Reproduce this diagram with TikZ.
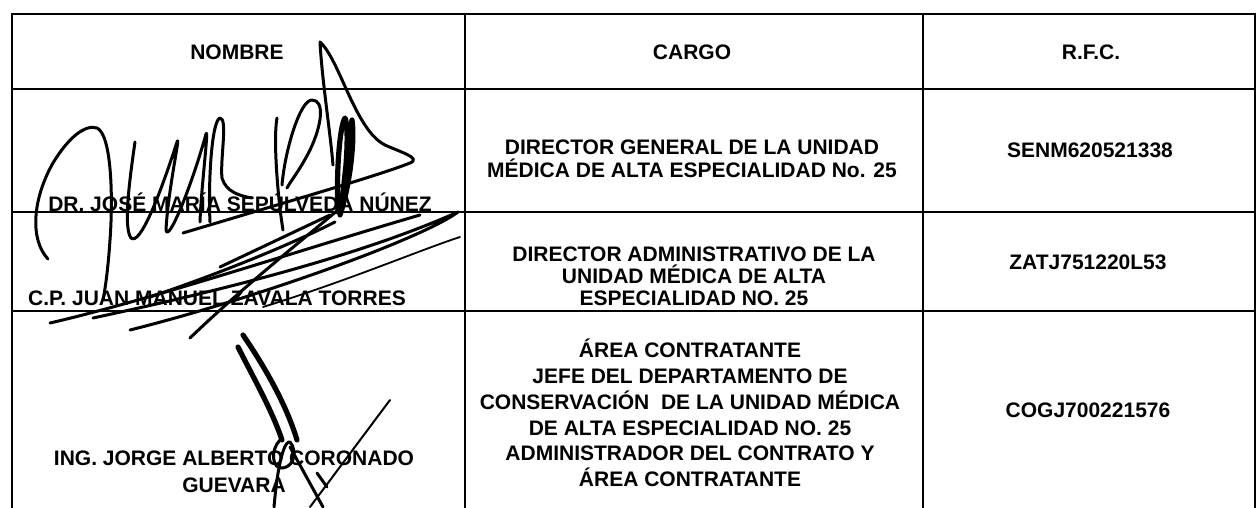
\documentclass[tikz,border=0pt]{standalone}
\usepackage{fontspec}
\setmainfont{Liberation Sans}
\usepackage{tikz}
\usetikzlibrary{positioning,calc}

\begin{document}
\begin{tikzpicture}[x=0.5pt, y=-0.5pt, line width=0.8pt]
\tikzset{cell/.style={font=\bfseries\fontsize{10.5}{11.5}\selectfont, align=center, inner sep=0pt},
         sig/.style={line width=1.5pt, line cap=round, line join=round},
         heavy/.style={sig, line width=2.6pt}}
\useasboundingbox (0,0) rectangle (1257,508);
% table
\draw (12,508) -- (12,14) -- (1255,14) -- (1255,508);
\foreach \x in {465,923} \draw (\x,14) -- (\x,508);
\foreach \y in {89,212,311} \draw (12,\y) -- (1255,\y);
% heads
\node[cell] (nombre) at (237,52) {NOMBRE};
\node[cell] (cargo)  at (692,52) {CARGO};
\node[cell] (rfc)    at (1091,52) {R.F.C.};
% first row
\node[cell] (name1)  at (240,202) {DR. JOSÉ MARÍA SEPÚLVEDA NÚNEZ};
\node[cell] (cargo1) at (692,159) {DIRECTOR GENERAL DE LA UNIDAD\\MÉDICA DE ALTA ESPECIALIDAD No. 25};
\node[cell] (rfc1)   at (1090,150) {SENM620521338};
% second row
\node[cell] (name2)  at (217,298) {C.P. JUAN MANUEL ZAVALA TORRES};
\node[cell, font=\bfseries\fontsize{10.5}{10.9}\selectfont] (cargo2) at (694,276) {DIRECTOR ADMINISTRATIVO DE LA\\UNIDAD MÉDICA DE ALTA\\ESPECIALIDAD NO. 25};
\node[cell] (rfc2)   at (1088,262) {ZATJ751220L53};
% third row
\node[cell, font=\bfseries\fontsize{10.5}{13.5}\selectfont] (name3) at (234,472) {ING. JORGE ALBERTO CORONADO\\GUEVARA};
\node[cell, font=\bfseries\fontsize{10.5}{12.9}\selectfont] (cargo3) at (690,413) {ÁREA CONTRATANTE\\JEFE DEL DEPARTAMENTO DE\\CONSERVACIÓN\ \ DE LA UNIDAD MÉDICA\\DE ALTA ESPECIALIDAD NO. 25\\ADMINISTRADOR DEL CONTRATO Y\\ÁREA CONTRATANTE};
\node[cell] (rfc3)   at (1088,410) {COGJ700221576};
% signature one
\draw[sig] (48,259) .. controls (30,240) and (32,200) .. (53,163) .. controls (68,138) and (85,124) .. (97,128) .. controls (112,135) and (113,200) .. (110,240) .. controls (108,270) and (105,290) .. (103,300);
\draw[sig] (135,142) .. controls (128,190) and (124,228) .. (131,238) .. controls (140,246) and (160,195) .. (177,142) .. controls (181,132) and (168,190) .. (166,230) .. controls (168,244) and (192,185) .. (206,134) .. controls (209,126) and (201,190) .. (200,222);
\draw[sig] (210,222) .. controls (208,180) and (212,120) .. (220,118) .. controls (228,118) and (220,160) .. (222,178) .. controls (226,192) and (240,196) .. (252,198);
\draw[sig] (277,118) .. controls (273,140) and (278,200) .. (283,230);
\draw[sig] (282,185) .. controls (285,150) and (300,100) .. (312,100) .. controls (325,100) and (322,125) .. (310,150) .. controls (300,170) and (290,182) .. (287,188);
\draw[sig] (333,165) .. controls (330,130) and (322,80) .. (320,42) .. controls (340,60) and (355,130) .. (385,145) .. controls (400,152) and (422,158) .. (410,163) .. controls (380,175) and (300,198) .. (183,233);
\draw[heavy] (338,212) .. controls (336,170) and (340,125) .. (345,118) .. controls (350,130) and (345,180) .. (342,205) .. controls (345,170) and (350,130) .. (352,120) .. controls (355,140) and (350,185) .. (340,215);
% signature two
\draw[sig] (50,323) .. controls (150,300) and (300,250) .. (420,215);
\draw[sig] (93,318) .. controls (200,295) and (350,260) .. (458,212) .. controls (420,240) and (250,300) .. (130,330);
\draw[sig, line width=0.9pt] (263,307) .. controls (350,280) and (420,250) .. (460,237);
\draw[sig] (190,338) .. controls (240,290) and (290,250) .. (338,210);
\draw[sig] (220,267) -- (330,215);
\draw[sig] (150,297) .. controls (230,270) and (300,240) .. (335,222);
% signature three
\draw[heavy] (243,335) .. controls (260,360) and (285,400) .. (297,440);
\draw[heavy] (238,347) .. controls (252,375) and (272,410) .. (282,440);
\draw[sig] (280,440) .. controls (270,450) and (272,470) .. (283,468) .. controls (295,466) and (297,450) .. (290,442) .. controls (285,440) and (278,460) .. (274,507);
\draw[sig] (290,447) -- (323,507);
\draw[sig, line width=1pt] (390,400) -- (310,507);
\draw[sig] (317,473) -- (327,487);
\end{tikzpicture}
\end{document}
